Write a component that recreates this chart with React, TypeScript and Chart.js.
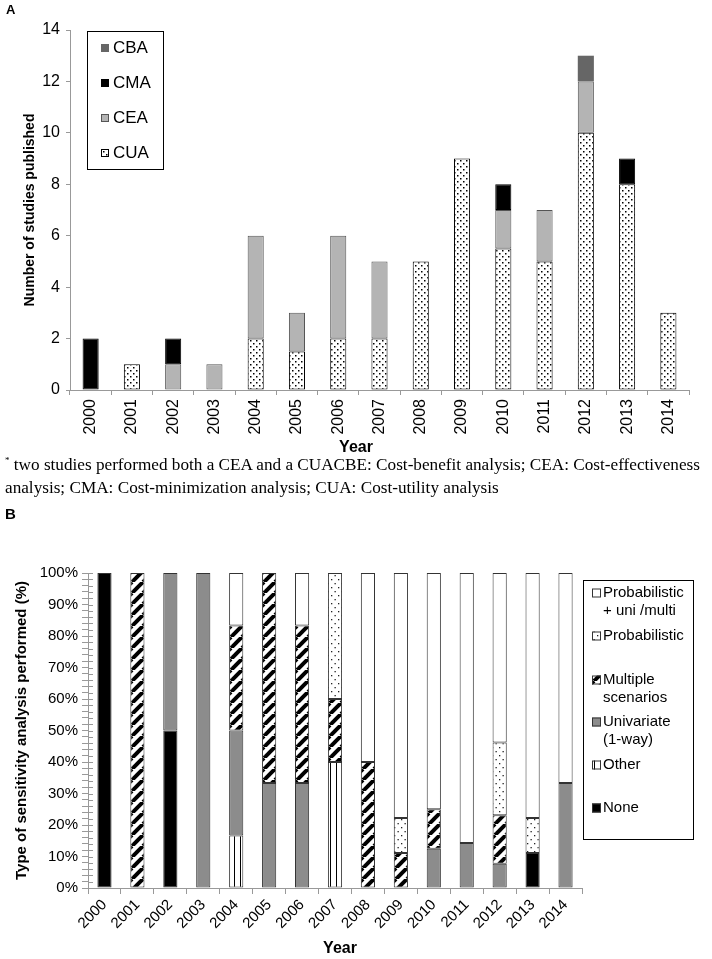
import React, { useEffect, useRef } from 'react';
import { Chart, registerables } from 'chart.js';
Chart.register(...registerables);

Chart.defaults.font.family = "'Liberation Sans', Arial, sans-serif";
Chart.defaults.color = '#000';

// ---------- Data: panel A ----------
const years = ['2000', '2001', '2002', '2003', '2004', '2005', '2006', '2007', '2008', '2009', '2010', '2011', '2012', '2013', '2014'];
const cuaCounts = [null, 1, null, null, 2, 1.5, 2, 2, 5, 9, 5.5, 5, 10, 8, 3];
const ceaCounts = [null, null, 1, 1, 4, 1.5, 4, 3, null, null, 1.5, 2, 2, null, null];
const cmaCounts = [2, null, 1, null, null, null, null, null, null, null, 1, null, null, 1, null];
const cbaCounts = [null, null, null, null, null, null, null, null, null, null, null, null, 1, null, null];

// ---------- Data: panel B (percent) ----------
const nonePct = [100, null, 50, null, null, null, null, null, null, null, null, null, null, 11.1, null];
const otherPct = [null, null, null, null, 16.7, null, null, 40, null, null, null, null, null, null, null];
const univariatePct = [null, null, 50, 100, 33.3, 33.3, 33.3, null, null, null, 12.5, 14.3, 7.7, null, 33.3];
const multiplePct = [null, 100, null, null, 33.3, 66.7, 50, 20, 40, 11.1, 12.5, null, 15.4, null, null];
const probabilisticPct = [null, null, null, null, null, null, null, 40, null, 11.1, null, null, 23.1, 11.1, null];
const probUniMultiPct = [null, null, null, null, 16.7, null, 16.7, null, 60, 77.8, 75, 85.7, 53.8, 77.8, 66.7];

const footnoteLine1 = ' two studies performed both a CEA and a CUACBE: Cost-benefit analysis; CEA: Cost-effectiveness';
const footnoteLine2 = 'analysis; CMA: Cost-minimization analysis; CUA: Cost-utility analysis';

function makePattern(w: number, h: number, draw: (ctx: CanvasRenderingContext2D) => void) {
  const c = document.createElement('canvas');
  c.width = w;
  c.height = h;
  const ctx = c.getContext('2d')!;
  draw(ctx);
  return ctx.createPattern(c, 'repeat')!;
}

function densePattern() {
  return makePattern(6, 6, (ctx) => {
    ctx.fillStyle = '#fff';
    ctx.fillRect(0, 0, 6, 6);
    ctx.fillStyle = '#000';
    ctx.fillRect(1, 1, 1.5, 1.5);
    ctx.fillRect(4, 4, 1.5, 1.5);
  });
}
function sparsePattern() {
  return makePattern(7, 8, (ctx) => {
    ctx.fillStyle = '#fff';
    ctx.fillRect(0, 0, 7, 8);
    ctx.fillStyle = '#222';
    ctx.fillRect(2, 2, 1.3, 1.3);
    ctx.fillRect(5.5, 6, 1.3, 1.3);
  });
}
function stripePattern() {
  return makePattern(11, 11, (ctx) => {
    ctx.fillStyle = '#fff';
    ctx.fillRect(0, 0, 11, 11);
    ctx.strokeStyle = '#000';
    ctx.lineWidth = 4;
    for (const o of [-11, 0, 11]) {
      ctx.beginPath();
      ctx.moveTo(o, 11);
      ctx.lineTo(o + 11, 0);
      ctx.stroke();
    }
  });
}
function verticalPattern() {
  return makePattern(6, 2, (ctx) => {
    ctx.fillStyle = '#fff';
    ctx.fillRect(0, 0, 6, 2);
    ctx.fillStyle = '#000';
    ctx.fillRect(0, 0, 1, 2);
  });
}

type LegendItem = { ds: number; lines: string[]; y: number };

function boxLegendPlugin(box: { x: number; y: number; w: number; h: number }, items: LegendItem[], sw: number, textX: number, swX: number, font: string, lineGap: number) {
  return {
    id: 'boxLegend',
    afterDraw(chart: any) {
      const ctx = chart.ctx as CanvasRenderingContext2D;
      ctx.save();
      ctx.fillStyle = '#fff';
      ctx.fillRect(box.x, box.y, box.w, box.h);
      ctx.strokeStyle = '#000';
      ctx.lineWidth = 1;
      ctx.strokeRect(box.x + 0.5, box.y + 0.5, box.w, box.h);
      ctx.font = font;
      ctx.textBaseline = 'middle';
      ctx.textAlign = 'left';
      for (const it of items) {
        const ds = chart.data.datasets[it.ds];
        ctx.fillStyle = ds.backgroundColor;
        ctx.fillRect(swX, it.y - sw / 2, sw, sw);
        if (ds.borderWidth) {
          ctx.strokeStyle = ds.borderColor;
          ctx.lineWidth = 1;
          ctx.strokeRect(swX + 0.5, it.y - sw / 2 + 0.5, sw - 1, sw - 1);
        }
        ctx.fillStyle = '#000';
        it.lines.forEach((ln, i) => ctx.fillText(ln, textX, it.y + i * lineGap));
      }
      ctx.restore();
    },
  };
}

// small tick marks on the inner side of the y axis (ticks cross the axis)
const innerTicksPlugin = {
  id: 'innerTicks',
  afterDraw(chart: any) {
    const y = chart.scales.y;
    const ctx = chart.ctx as CanvasRenderingContext2D;
    ctx.save();
    ctx.strokeStyle = '#999';
    ctx.lineWidth = 1;
    y.ticks.forEach((t: any) => {
      const py = Math.round(y.getPixelForValue(t.value)) + 0.5;
      ctx.beginPath();
      ctx.moveTo(y.right, py);
      ctx.lineTo(y.right + 5, py);
      ctx.stroke();
    });
    ctx.restore();
  },
};

function ChartA() {
  const ref = useRef<HTMLCanvasElement>(null);
  useEffect(() => {
    const common = { barPercentage: 0.39, categoryPercentage: 1, borderSkipped: false as const };
    const chart = new Chart(ref.current!, {
      type: 'bar',
      data: {
        labels: years,
        datasets: [
          { label: 'CUA', data: cuaCounts, backgroundColor: densePattern(), borderColor: '#000', borderWidth: 1, ...common },
          { label: 'CEA', data: ceaCounts, backgroundColor: '#b4b4b4', borderColor: '#555', borderWidth: 1, ...common },
          { label: 'CMA', data: cmaCounts, backgroundColor: '#000', borderColor: '#000', borderWidth: 1, ...common },
          { label: 'CBA', data: cbaCounts, backgroundColor: '#666', borderColor: '#666', borderWidth: 0, ...common },
        ] as any,
      },
      options: {
        animation: false,
        responsive: false,
        layout: { padding: { top: 30, right: 23, left: 0, bottom: 0 } },
        plugins: { legend: { display: false }, tooltip: { enabled: false } },
        scales: {
          x: {
            stacked: true,
            grid: { drawOnChartArea: false, offset: true, tickLength: 5, color: '#999' },
            border: { color: '#999' },
            ticks: { minRotation: 90, maxRotation: 90, autoSkip: false, font: { size: 16 }, color: '#000', padding: 4 },
            afterFit: (s: any) => { s.height = 70; },
          },
          y: {
            stacked: true,
            min: 0,
            max: 14,
            ticks: { stepSize: 2, font: { size: 16 }, color: '#000', padding: 6 },
            grid: { drawOnChartArea: false, tickLength: 4, color: '#999' },
            border: { color: '#999' },
            title: { display: true, text: 'Number of studies published', font: { size: 14, weight: 'bold' }, color: '#000', padding: { top: 22, bottom: 0 } },
            afterFit: (s: any) => { s.width = 70; },
          },
        },
      } as any,
      plugins: [
        boxLegendPlugin(
          { x: 87, y: 31, w: 76, h: 138 },
          [
            { ds: 3, lines: ['CBA'], y: 48 },
            { ds: 2, lines: ['CMA'], y: 83 },
            { ds: 1, lines: ['CEA'], y: 118 },
            { ds: 0, lines: ['CUA'], y: 153 },
          ],
          8, 113, 101, "17px 'Liberation Sans', Arial, sans-serif", 0
        ),
      ],
    });
    return () => chart.destroy();
  }, []);
  return <canvas ref={ref} width={712} height={460} style={{ display: 'block', position: 'absolute', left: 0, top: 0 }} />;
}

function ChartB() {
  const ref = useRef<HTMLCanvasElement>(null);
  useEffect(() => {
    const common = { barPercentage: 0.43, categoryPercentage: 1, borderSkipped: false as const, borderWidth: 1, borderColor: '#333' };
    const chart = new Chart(ref.current!, {
      type: 'bar',
      data: {
        labels: years,
        datasets: [
          { label: 'None', data: nonePct, backgroundColor: '#000', ...common },
          { label: 'Other', data: otherPct, backgroundColor: verticalPattern(), ...common },
          { label: 'Univariate (1-way)', data: univariatePct, backgroundColor: '#8c8c8c', ...common },
          { label: 'Multiple scenarios', data: multiplePct, backgroundColor: stripePattern(), ...common },
          { label: 'Probabilistic', data: probabilisticPct, backgroundColor: sparsePattern(), ...common },
          { label: 'Probabilistic + uni /multi', data: probUniMultiPct, backgroundColor: '#fff', ...common },
        ] as any,
      },
      options: {
        animation: false,
        responsive: false,
        layout: { padding: { top: 68, right: 130, left: 0, bottom: 0 } },
        plugins: { legend: { display: false }, tooltip: { enabled: false } },
        scales: {
          x: {
            stacked: true,
            grid: { drawOnChartArea: false, offset: true, tickLength: 6, color: '#999' },
            border: { color: '#999' },
            ticks: { minRotation: 45, maxRotation: 45, autoSkip: false, font: { size: 15 }, color: '#000', padding: 2 },
            afterFit: (s: any) => { s.height = 71; },
          },
          y: {
            stacked: true,
            min: 0,
            max: 100,
            ticks: {
              stepSize: 2,
              maxTicksLimit: 101,
              autoSkip: false,
              font: { size: 15 },
              color: '#000',
              padding: 4,
              callback: (v: any) => (Number(v) % 10 === 0 ? v + '%' : ''),
            },
            grid: { drawOnChartArea: false, tickLength: 6, color: '#999' },
            border: { color: '#999' },
            title: { display: true, text: 'Type of sensitivity analysis performed (%)', font: { size: 15, weight: 'bold' }, color: '#000', padding: { top: 13, bottom: 0 } },
            afterFit: (s: any) => { s.width = 88; },
          },
        },
      } as any,
      plugins: [
        innerTicksPlugin,
        boxLegendPlugin(
          { x: 583, y: 75, w: 110, h: 259 },
          [
            { ds: 5, lines: ['Probabilistic', '+ uni /multi'], y: 88 },
            { ds: 4, lines: ['Probabilistic'], y: 131 },
            { ds: 3, lines: ['Multiple', 'scenarios'], y: 175 },
            { ds: 2, lines: ['Univariate', '(1-way)'], y: 217 },
            { ds: 1, lines: ['Other'], y: 260 },
            { ds: 0, lines: ['None'], y: 303 },
          ],
          9, 603, 592, "15px 'Liberation Sans', Arial, sans-serif", 18
        ),
      ],
    });
    return () => chart.destroy();
  }, []);
  return <canvas ref={ref} width={712} height={454} style={{ display: 'block', position: 'absolute', left: 0, top: 505 }} />;
}

export default function App() {
  const narrowBold: React.CSSProperties = { fontFamily: "'Liberation Sans Narrow', 'Liberation Sans', Arial, sans-serif", fontWeight: 'bold' };
  return (
    <div style={{ position: 'absolute', left: 0, top: 0, width: 712, height: 959, background: '#fff', overflow: 'hidden' }}>
      <ChartA />
      <ChartB />
      <div style={{ position: 'absolute', left: 6, top: 2, fontFamily: "'Liberation Sans', Arial, sans-serif", fontWeight: 'bold', fontSize: 13 }}>A</div>
      <div style={{ position: 'absolute', left: 356, top: 447, transform: 'translate(-50%, -50%)', fontSize: 16, ...narrowBold }}>Year</div>
      <div style={{ position: 'absolute', left: 5, top: 449, fontFamily: "'Liberation Serif', 'Times New Roman', serif", fontSize: 17.2, lineHeight: '23px', whiteSpace: 'nowrap' }}>
        <div><sup style={{ fontSize: 9 }}>*</sup>{footnoteLine1}</div>
        <div>{footnoteLine2}</div>
      </div>
      <div style={{ position: 'absolute', left: 5, top: 505, fontSize: 15, ...narrowBold }}>B</div>
      <div style={{ position: 'absolute', left: 340, top: 948, transform: 'translate(-50%, -50%)', fontSize: 16, ...narrowBold }}>Year</div>
    </div>
  );
}
